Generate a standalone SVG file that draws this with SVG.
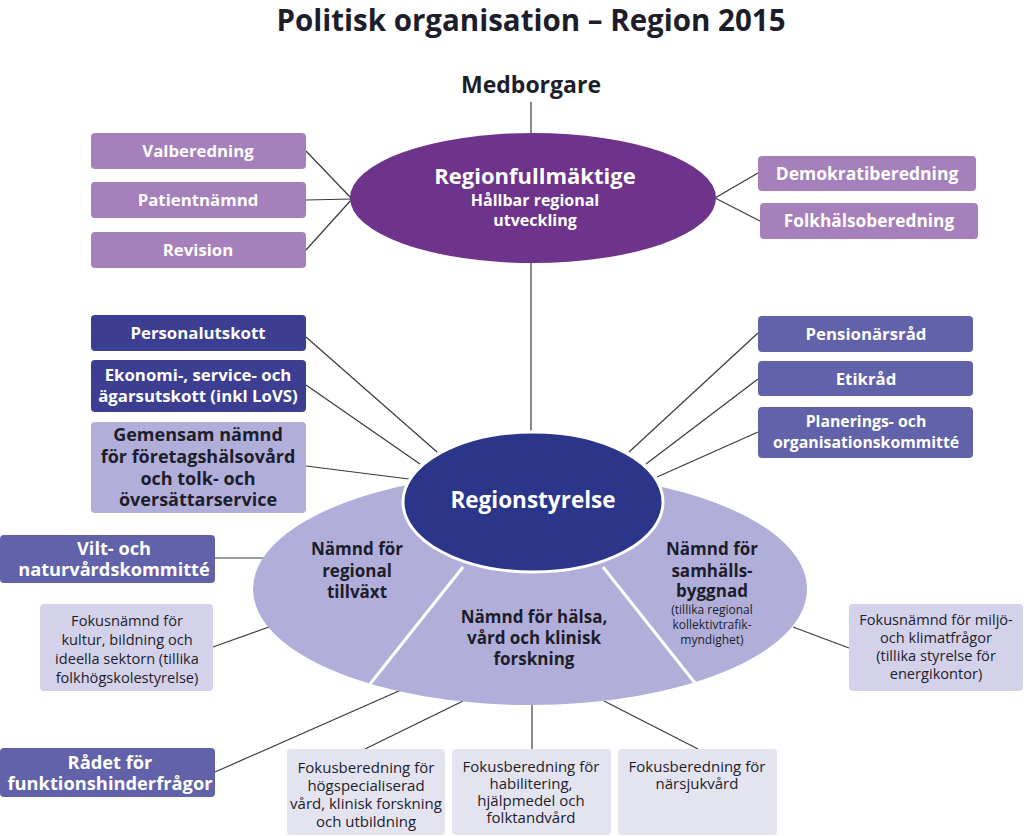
<svg xmlns="http://www.w3.org/2000/svg" width="1024" height="836" viewBox="0 0 1024 836">
<style>
.conn{stroke:#3a3a3a;stroke-width:1.2;fill:none}
.t{font-family:"Open Sans","Noto Sans","Liberation Sans",sans-serif;text-anchor:middle}
.b{font-weight:bold}
.w{fill:#ffffff}
.d{fill:#1d1d2b}
.s17{font-size:16.8px}
.s15{font-size:14.6px}
.top{fill:#a680bb}
.dk{fill:#3c3e91}
.md{fill:#6262aa}
.lt{fill:#b1afda}
.fk{fill:#d4d2ea}
.fb{fill:#e4e3f0}
</style>
<rect width="1024" height="836" fill="#ffffff"/>
<text class="t b d" x="531" y="31" font-size="29.5">Politisk organisation – Region 2015</text>
<g id="connectors">
<line class="conn" x1="531" y1="102" x2="531" y2="470"/>
<line class="conn" x1="306" y1="151" x2="352" y2="199"/>
<line class="conn" x1="306" y1="200" x2="352" y2="199"/>
<line class="conn" x1="306" y1="250" x2="352" y2="199"/>
<line class="conn" x1="715" y1="198" x2="758" y2="173"/>
<line class="conn" x1="715" y1="198" x2="760" y2="221"/>
<line class="conn" x1="306" y1="337" x2="437" y2="452"/>
<line class="conn" x1="306" y1="385" x2="420" y2="464"/>
<line class="conn" x1="306" y1="466" x2="409" y2="479"/>
<line class="conn" x1="758" y1="333" x2="629" y2="452"/>
<line class="conn" x1="758" y1="379" x2="646" y2="464"/>
<line class="conn" x1="758" y1="432" x2="657" y2="477"/>
<line class="conn" x1="215" y1="558" x2="265" y2="558"/>
<line class="conn" x1="213" y1="647" x2="269" y2="627"/>
<line class="conn" x1="849" y1="648" x2="793" y2="627"/>
<line class="conn" x1="215" y1="772" x2="401" y2="690"/>
<line class="conn" x1="365" y1="749" x2="463" y2="701"/>
<line class="conn" x1="532" y1="703" x2="532" y2="749"/>
<line class="conn" x1="604" y1="701" x2="698" y2="749"/>
</g>
<g id="naemnder">
<ellipse cx="530" cy="589" rx="277" ry="116" fill="#b1afda"/>
<line x1="463" y1="567" x2="370" y2="684" stroke="#ffffff" stroke-width="3"/>
<line x1="603" y1="567" x2="695" y2="683" stroke="#ffffff" stroke-width="3"/>
</g>
<g id="node-tillvaxt">
<text class="t b d" font-size="17" x="357" y="555">Nämnd för</text>
<text class="t b d" font-size="17" x="357" y="577">regional</text>
<text class="t b d" font-size="17" x="357" y="598">tillväxt</text>
</g>
<g id="node-halsa">
<text class="t b d" font-size="17" x="534" y="623">Nämnd för hälsa,</text>
<text class="t b d" font-size="17" x="534" y="644">vård och klinisk</text>
<text class="t b d" font-size="17" x="534" y="665">forskning</text>
</g>
<g id="node-samhallsbyggnad">
<text class="t b d" font-size="17" x="712" y="555">Nämnd för</text>
<text class="t b d" font-size="17" x="712" y="577">samhälls-</text>
<text class="t b d" font-size="17" x="712" y="597">byggnad</text>
<text class="t d" font-size="12" x="712" y="614">(tillika regional</text>
<text class="t d" font-size="12" x="712" y="629">kollektivtrafik-</text>
<text class="t d" font-size="12" x="712" y="644">myndighet)</text>
</g>
<g id="node-regionstyrelse">
<ellipse cx="533" cy="502" rx="130" ry="70" fill="#2b358a" stroke="#ffffff" stroke-width="3"/>
<text class="t b w" font-size="22.5" x="533" y="508">Regionstyrelse</text>
</g>
<g id="node-regionfullmaktige">
<ellipse cx="533" cy="198" rx="183" ry="65" fill="#6e338a"/>
<text class="t b w" font-size="22" x="535" y="184">Regionfullmäktige</text>
<text class="t b w" font-size="16" x="535" y="206">Hållbar regional</text>
<text class="t b w" font-size="16" x="535" y="226">utveckling</text>
</g>
<g id="node-medborgare">
<text class="t b d" font-size="23" x="531" y="93">Medborgare</text>
</g>
<g id="node-valberedning"><rect class="top" x="91" y="133" width="215" height="36" rx="4"/><text class="t b w s17" x="198" y="157">Valberedning</text></g>
<g id="node-patientnamnd"><rect class="top" x="91" y="182" width="215" height="36" rx="4"/><text class="t b w s17" x="198" y="206">Patientnämnd</text></g>
<g id="node-revision"><rect class="top" x="91" y="232" width="215" height="36" rx="4"/><text class="t b w s17" x="198" y="256">Revision</text></g>
<g id="node-demokratiberedning"><rect class="top" x="758" y="156" width="218" height="35" rx="4"/><text class="t b w" font-size="17.5" x="867" y="180">Demokratiberedning</text></g>
<g id="node-folkhalsoberedning"><rect class="top" x="760" y="203" width="218" height="36" rx="4"/><text class="t b w" font-size="17.3" x="869" y="227">Folkhälsoberedning</text></g>
<g id="node-personalutskott"><rect class="dk" x="91" y="315" width="215" height="36" rx="4"/><text class="t b w s17" x="198" y="339">Personalutskott</text></g>
<g id="node-ekonomi"><rect class="dk" x="91" y="360" width="215" height="52" rx="4"/><text class="t b w s17" x="198" y="381">Ekonomi-, service- och</text><text class="t b w s17" x="198" y="402">ägarsutskott (inkl LoVS)</text></g>
<g id="node-gemensam"><rect class="lt" x="91" y="422" width="215" height="91" rx="4"/>
<text class="t b d" font-size="18" x="198" y="441">Gemensam nämnd</text>
<text class="t b d" font-size="18" x="198" y="463">för företagshälsovård</text>
<text class="t b d" font-size="18" x="198" y="485">och tolk- och</text>
<text class="t b d" font-size="18" x="198" y="506">översättarservice</text></g>
<g id="node-pensionarsrad"><rect class="md" x="758" y="316" width="215" height="36" rx="4"/><text class="t b w s17" x="866" y="340">Pensionärsråd</text></g>
<g id="node-etikrad"><rect class="md" x="758" y="361" width="215" height="35" rx="4"/><text class="t b w s17" x="866" y="385">Etikråd</text></g>
<g id="node-planerings"><rect class="md" x="758" y="407" width="215" height="51" rx="4"/><text class="t b w" font-size="15.8" x="866" y="427">Planerings- och</text><text class="t b w" font-size="15.8" x="866" y="448">organisationskommitté</text></g>
<g id="node-vilt"><rect class="md" x="0" y="535" width="215" height="48" rx="4"/><text class="t b w" font-size="18.2" x="114" y="555">Vilt- och</text><text class="t b w" font-size="18.2" x="114" y="576">naturvårdskommitté</text></g>
<g id="node-kultur"><rect class="fk" x="40" y="604" width="173" height="87" rx="4"/>
<text class="t d s15" x="127" y="626">Fokusnämnd för</text>
<text class="t d s15" x="127" y="645">kultur, bildning och</text>
<text class="t d s15" x="127" y="664">ideella sektorn (tillika</text>
<text class="t d s15" x="127" y="683">folkhögskolestyrelse)</text></g>
<g id="node-miljo"><rect class="fk" x="849" y="604" width="174" height="87" rx="4"/>
<text class="t d s15" x="936" y="625">Fokusnämnd för miljö-</text>
<text class="t d s15" x="936" y="643">och klimatfrågor</text>
<text class="t d s15" x="936" y="661">(tillika styrelse för</text>
<text class="t d s15" x="936" y="679">energikontor)</text></g>
<g id="node-radet"><rect class="md" x="0" y="748" width="215" height="49" rx="4"/><text class="t b w" font-size="18.3" x="110" y="769">Rådet för</text><text class="t b w" font-size="18.3" x="110" y="790">funktionshinderfrågor</text></g>
<g id="node-hogspec"><rect class="fb" x="287" y="749" width="158" height="86" rx="4"/>
<text class="t d" font-size="15" x="366" y="773">Fokusberedning för</text>
<text class="t d" font-size="15" x="366" y="791">högspecialiserad</text>
<text class="t d" font-size="15" x="366" y="809">vård, klinisk forskning</text>
<text class="t d" font-size="15" x="366" y="827">och utbildning</text></g>
<g id="node-habilitering"><rect class="fb" x="452" y="749" width="159" height="86" rx="4"/>
<text class="t d" font-size="15" x="531" y="772">Fokusberedning för</text>
<text class="t d" font-size="15" x="531" y="789">habilitering,</text>
<text class="t d" font-size="15" x="531" y="806">hjälpmedel och</text>
<text class="t d" font-size="15" x="531" y="823">folktandvård</text></g>
<g id="node-narsjukvard"><rect class="fb" x="618" y="749" width="159" height="86" rx="4"/>
<text class="t d" font-size="15" x="697" y="772">Fokusberedning för</text>
<text class="t d" font-size="15" x="697" y="789">närsjukvård</text></g>
</svg>
